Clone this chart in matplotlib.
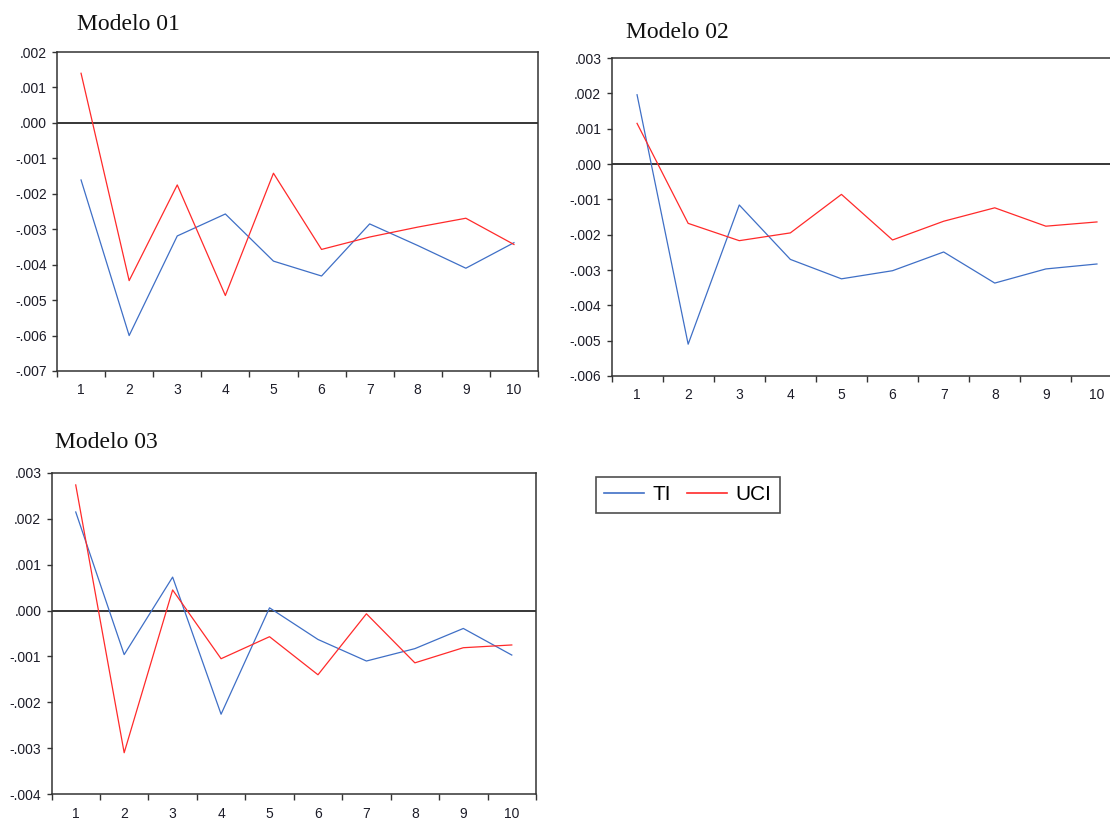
import matplotlib
matplotlib.use("Agg")
import matplotlib.pyplot as plt
from matplotlib.ticker import FixedLocator, FuncFormatter

periods = [1, 2, 3, 4, 5, 6, 7, 8, 9, 10]

m1_ti = [-0.00161, -0.00600, -0.00319, -0.00257, -0.00390, -0.00432, -0.00285, -0.00346, -0.00410, -0.00338]
m1_uci = [0.00140, -0.00445, -0.00175, -0.00487, -0.00142, -0.00357, -0.00322, -0.00294, -0.00269, -0.00343]

m2_ti = [0.00196, -0.00510, -0.00116, -0.00270, -0.00325, -0.00302, -0.00249, -0.00337, -0.00297, -0.00283]
m2_uci = [0.00115, -0.00168, -0.00217, -0.00195, -0.00086, -0.00215, -0.00162, -0.00124, -0.00176, -0.00164]

m3_ti = [0.00215, -0.00096, 0.00073, -0.00226, 0.00006, -0.00063, -0.00110, -0.00083, -0.00039, -0.00097]
m3_uci = [0.00274, -0.00310, 0.00045, -0.00105, -0.00057, -0.00140, -0.00007, -0.00114, -0.00081, -0.00075]

titles = ["Modelo 01", "Modelo 02", "Modelo 03"]
series_names = ["TI", "UCI"]
ylims = [(-0.007, 0.002), (-0.006, 0.003), (-0.004, 0.003)]

BLUE = "#3f6fc6"
RED = "#ff2a2a"
W, H = 1110, 819

fig = plt.figure(figsize=(W / 100, H / 100), dpi=100)

# axes boxes in pixels: left, top, right, bottom
boxes = [(57, 52, 538, 371), (611.5, 58, 1122.5, 376), (51.5, 473, 536, 794)]
title_pos = [(77, 24), (626, 33), (55, 443)]
data = [(m1_ti, m1_uci), (m2_ti, m2_uci), (m3_ti, m3_uci)]

def fmt(v, pos):
    s = "%.3f" % v
    if s.startswith("-0"):
        s = "-" + s[2:]
    elif s.startswith("0"):
        s = s[1:]
    if s == "-.000":
        s = ".000"
    return s

lines_for_legend = None
for i in range(3):
    l, t, r, b = boxes[i]
    ax = fig.add_axes([l / W, 1 - b / H, (r - l) / W, (b - t) / H])
    ti, uci = data[i]
    lt, = ax.plot(periods, ti, color=BLUE, lw=0.9, label=series_names[0])
    lu, = ax.plot(periods, uci, color=RED, lw=0.9, label=series_names[1])
    if lines_for_legend is None:
        lines_for_legend = (lt, lu)
    ax.axhline(0, color="black", lw=1.1, zorder=1)
    ax.set_xlim(0.5, 10.5)
    lo, hi = ylims[i]
    ax.set_ylim(lo, hi)
    n = int(round((hi - lo) / 0.001))
    ax.yaxis.set_major_locator(FixedLocator([lo + 0.001 * k for k in range(n + 1)]))
    ax.yaxis.set_major_formatter(FuncFormatter(fmt))
    ax.set_xticks(periods)
    ax.set_xticklabels([str(p) for p in periods])
    ax.set_xticks([p + 0.5 for p in range(0, 11)], minor=True)
    ax.tick_params(axis="x", which="major", length=0, pad=9, labelsize=10, labelcolor="#1c1c28")
    ax.tick_params(axis="x", which="minor", length=4.3, width=1, direction="out", color="#333333")
    ax.tick_params(axis="y", which="major", length=3.8, width=1, direction="out", pad=3.5,
                   labelsize=10, labelcolor="#1c1c28", color="#333333")
    for sp in ax.spines.values():
        sp.set_color("#333333")
        sp.set_linewidth(1.1)
    for lab in ax.get_xticklabels() + ax.get_yticklabels():
        lab.set_fontfamily("Liberation Sans")
    tx, ty = title_pos[i]
    fig.text(tx / W, 1 - ty / H, titles[i], family="Liberation Serif", fontsize=17,
             ha="left", va="center", color="#111111")

leg = fig.legend(lines_for_legend, series_names, loc="upper left",
                 bbox_to_anchor=(596 / W, 1 - 477 / H), ncol=2, frameon=True,
                 fancybox=False, edgecolor="#222222",
                 prop={"family": "Liberation Sans", "size": 15},
                 handlelength=1.9, columnspacing=0.8, handletextpad=0.4,
                 borderpad=0.4, borderaxespad=0)
leg.get_frame().set_linewidth(1.2)
for h in leg.legend_handles:
    h.set_linewidth(1.2)

fig.savefig("out.png", dpi=100)
